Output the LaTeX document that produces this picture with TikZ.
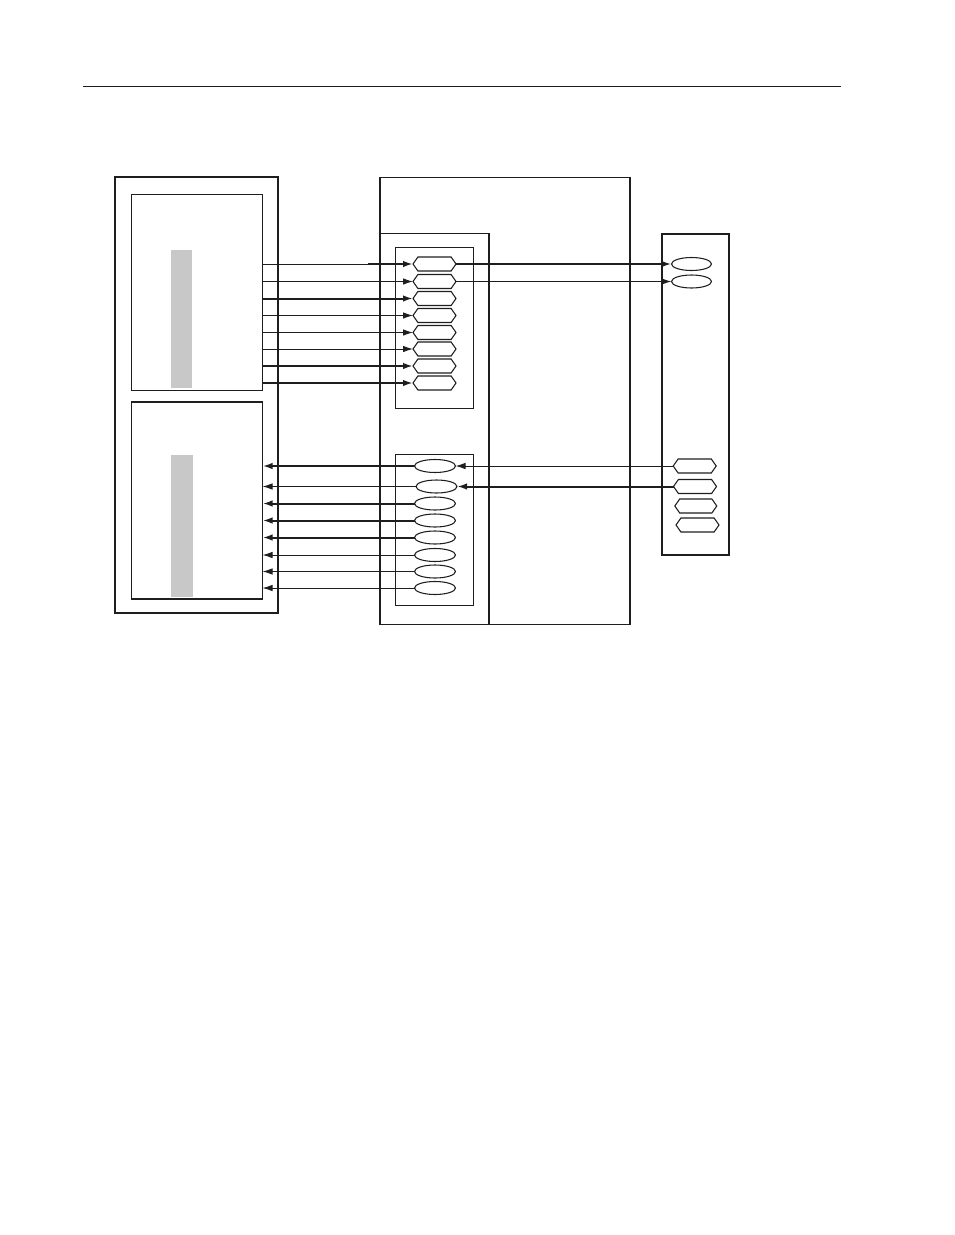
\documentclass[tikz,border=0pt]{standalone}
\usetikzlibrary{shapes.geometric,shapes.symbols,arrows.meta}
\definecolor{ink}{HTML}{1E1E1E}
\definecolor{barg}{HTML}{C8C8C8}
\begin{document}
\begin{tikzpicture}[x=0.75pt,y=-0.75pt,
  box/.style={draw=ink,line width=0.9pt,inner sep=0pt,outer sep=0pt,anchor=north west},
  heavybox/.style={box,line width=1.3pt},
  lightbox/.style={box,line width=0.75pt},
  bar/.style={fill=barg,draw=none,inner sep=0pt,outer sep=0pt,anchor=north west},
  hexa/.style={draw=ink,line width=0.8pt,signal,signal to=east and west,signal pointer angle=110,
    minimum width=43*0.75pt,minimum height=14*0.75pt,inner sep=0pt,outer sep=0pt},
  oval/.style={draw=ink,line width=0.8pt,ellipse,minimum width=41*0.75pt,minimum height=13*0.75pt,
    inner sep=0pt,outer sep=0pt},
  thinw/.style={draw=ink,line width=0.7pt},
  thickw/.style={draw=ink,line width=1.5pt},
  arr/.style={-{Latex[length=10*0.75pt,width=6.5*0.75pt]}},
]
\useasboundingbox (0,0) rectangle (954,1235);
% top rule
\coordinate (r1) at (83,86.5);
\coordinate (r2) at (841,86.5);
\draw[ink,line width=0.9pt] (r1) -- (r2);

% left unit
\node[heavybox,minimum width=163*0.75pt,minimum height=436*0.75pt] (lo) at (115,177) {};
\node[box,minimum width=131*0.75pt,minimum height=196*0.75pt] (ub) at (131.5,194.5) {};
\node[bar,minimum width=21*0.75pt,minimum height=138*0.75pt] (ubar) at (171,250) {};
\node[box,minimum width=131*0.75pt,minimum height=197*0.75pt] (lb) at (131.5,402) {};
\node[bar,minimum width=22*0.75pt,minimum height=142*0.75pt] (lbar) at (171,455) {};

% middle unit
\node[box,minimum width=250*0.75pt,minimum height=447*0.75pt] (mo) at (380,177.5) {};
\node[box,minimum width=109*0.75pt,minimum height=391*0.75pt] (mi) at (380,233.5) {};
\node[lightbox,minimum width=78*0.75pt,minimum height=161*0.75pt] (mu) at (395,247) {};
\node[lightbox,minimum width=78*0.75pt,minimum height=151.5*0.75pt] (ml) at (395,454) {};

% right unit
\node[box,minimum width=67*0.75pt,minimum height=321*0.75pt] (ro) at (662,234) {};

% upper hexagons
\node[hexa] (h1) at (434.5,264) {};
\node[hexa] (h2) at (434.5,281.5) {};
\node[hexa] (h3) at (434.5,298.5) {};
\node[hexa] (h4) at (434.5,315.5) {};
\node[hexa] (h5) at (434.5,332.5) {};
\node[hexa] (h6) at (434.5,349) {};
\node[hexa] (h7) at (434.5,366) {};
\node[hexa] (h8) at (434.5,383) {};

% lower ovals
\node[oval] (e1) at (435,466) {};
\node[oval] (e2) at (436.5,486.5) {};
\node[oval] (e3) at (435,503.5) {};
\node[oval] (e4) at (435,520.5) {};
\node[oval] (e5) at (435,537.5) {};
\node[oval] (e6) at (435,555) {};
\node[oval] (e7) at (435,571.5) {};
\node[oval] (e8) at (435,588) {};

% right ovals and hexagons
\node[oval,minimum width=40*0.75pt] (re1) at (691.5,264) {};
\node[oval,minimum width=40*0.75pt] (re2) at (691.5,281.5) {};
\node[hexa] (rh1) at (694.7,466) {};
\node[hexa] (rh2) at (695,486.5) {};
\node[hexa,minimum width=42*0.75pt] (rh3) at (695.8,506) {};
\node[hexa] (rh4) at (697.5,525) {};

% upper connectors: left unit -> hexagons
\coordinate (j1) at (368,264);
\draw[thinw] (ub.east |- h1) -- (j1);
\draw[thickw,arr] (j1) -- (h1.west);
\draw[thinw,arr] (ub.east |- h2) -- (h2.west);
\draw[thickw,arr] (ub.east |- h3) -- (h3.west);
\draw[thinw,arr] (ub.east |- h4) -- (h4.west);
\draw[thinw,arr] (ub.east |- h5) -- (h5.west);
\draw[thinw,arr] (ub.east |- h6) -- (h6.west);
\draw[thickw,arr] (ub.east |- h7) -- (h7.west);
\draw[thickw,arr] (ub.east |- h8) -- (h8.west);

% hexagons -> right ovals
\draw[thickw,arr] (h1.east) -- (re1.west);
\draw[thinw,arr] (h2.east) -- (re2.west);

% lower connectors: ovals -> left unit
\draw[thickw,arr] (e1.west) -- (lb.east |- e1);
\draw[thinw,arr] (e2.west) -- (lb.east |- e2);
\draw[thickw,arr] (e3.west) -- (lb.east |- e3);
\draw[thickw,arr] (e4.west) -- (lb.east |- e4);
\draw[thickw,arr] (e5.west) -- (lb.east |- e5);
\draw[thinw,arr] (e6.west) -- (lb.east |- e6);
\draw[thinw,arr] (e7.west) -- (lb.east |- e7);
\draw[thinw,arr] (e8.west) -- (lb.east |- e8);

% right hexagons -> lower ovals
\draw[thinw,arr] (rh1.west) -- (e1.east);
\draw[thickw,arr] (rh2.west) -- (e2.east);
\end{tikzpicture}
\end{document}
